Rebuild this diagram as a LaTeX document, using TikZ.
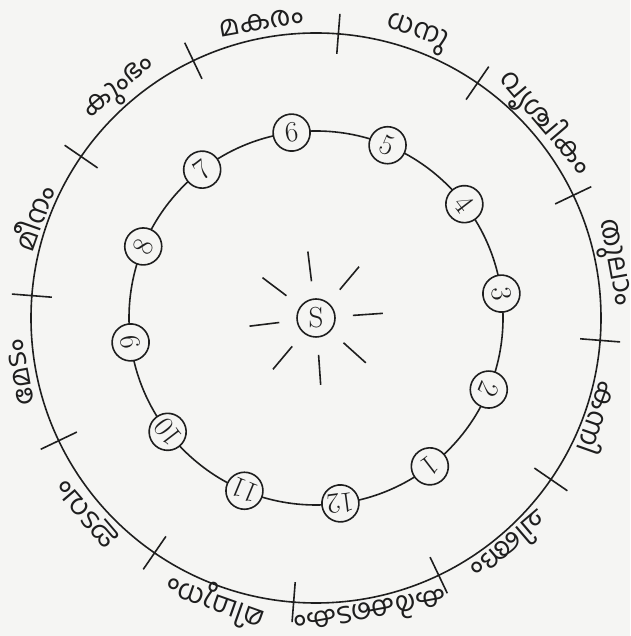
\documentclass[tikz,border=0pt]{standalone}
\usepackage{fontspec}
\newfontfamily\mlfont[Script=Malayalam]{Hind Kochi}
\definecolor{bgc}{RGB}{245,245,243}
\definecolor{ink}{RGB}{30,30,30}
\begin{document}
\begin{tikzpicture}[x=1pt,y=1pt,
  orbit/.style={draw=ink,line width=1.6pt},
  num/.style={circle,draw=ink,line width=1.6pt,fill=bgc,minimum size=37pt,inner sep=0pt,font=\fontsize{29}{29}\selectfont,text=ink},
  month/.style={font=\mlfont\fontsize{28}{30}\selectfont,text=ink,inner sep=0pt},
  tickmark/.style={draw=ink,line width=1.6pt},
  ray/.style={draw=ink,line width=1.6pt}]
\fill[bgc] (0,0) rectangle (630,636);
\useasboundingbox (0,0) rectangle (630,636);
\begin{scope}[shift={(316,318)}]
\coordinate (c) at (0,0);
\draw[orbit] (c) circle[radius=285pt];
\draw[orbit] (c) circle[radius=187pt];
\foreach \t in {0,...,11}{
  \draw[tickmark] ({25.5+30*\t}:265pt) -- ({25.5+30*\t}:305pt);
}
\foreach \a/\txt/\nm in {100.5/മകരം/makaram, 70.5/ധനു/dhanu, 40.5/വൃശ്ചികം/vrischikam, 10.5/തുലാം/thulam, -19.5/കന്നി/kanni, -49.5/ചിങ്ങം/chingam, -79.5/കർക്കടകം/karkkadakam, -109.5/മിഥുനം/mithunam, -139.5/ഇടവം/idavam, -169.5/മേടം/medam, 160.5/മീനം/meenam, 130.5/കുംഭം/kumbham}{
  \node[month,rotate=\a-90] (\nm) at (\a:301pt) {\txt};
}
\foreach \k in {1,...,12}{
  \pgfmathsetmacro\ang{97.5+30*(\k-6)}
  \node[num,rotate=\ang-90] (n\k) at (\ang:187pt) {\k};
}
\node[num,minimum size=38pt,font=\fontsize{29}{29}\selectfont] (S) at (c) {S};
\foreach \a in {97,50,4,-42,-86,-130,187,143}{
  \draw[ray] (\a:37pt) -- (\a:67pt);
}
\end{scope}
\end{tikzpicture}
\end{document}
